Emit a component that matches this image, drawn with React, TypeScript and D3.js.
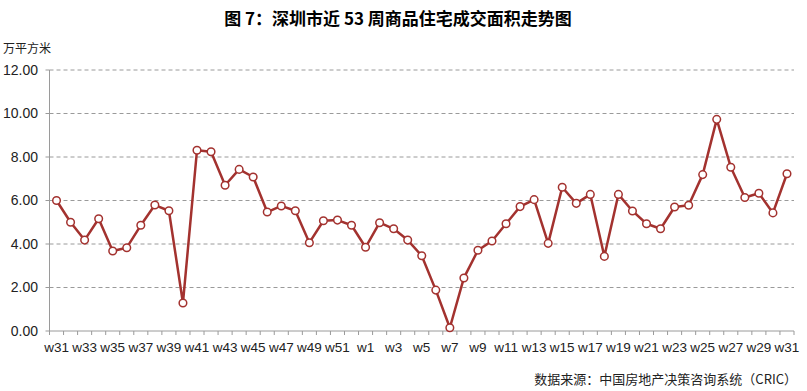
import React from "react";
import * as d3 from "d3";

const weeks: string[] = [
  "w31","w32","w33","w34","w35","w36","w37","w38","w39","w40","w41","w42","w43","w44","w45","w46","w47","w48","w49","w50","w51","w52",
  "w1","w2","w3","w4","w5","w6","w7","w8","w9","w10","w11","w12","w13","w14","w15","w16","w17","w18","w19","w20","w21","w22","w23","w24","w25","w26","w27","w28","w29","w30","w31 "
];
const areaValues: number[] = [
  6.0, 5.0, 4.18, 5.16, 3.68, 3.83, 4.86, 5.79, 5.53, 1.29, 8.31, 8.24, 6.70, 7.43, 7.08, 5.47, 5.75, 5.53, 4.06, 5.07, 5.10, 4.86,
  3.85, 4.98, 4.70, 4.18, 3.46, 1.88, 0.15, 2.44, 3.71, 4.14, 4.93, 5.72, 6.04, 4.03, 6.61, 5.87, 6.28, 3.43, 6.28, 5.52, 4.93, 4.70, 5.70, 5.78, 7.19, 9.73, 7.53, 6.14, 6.33, 5.43, 7.23
];
const yTicks: number[] = [0, 2, 4, 6, 8, 10, 12];
const title = "图 7：深圳市近 53 周商品住宅成交面积走势图";
const unitLabel = "万平方米";
const sourceLabel = "数据来源：中国房地产决策咨询系统（CRIC）";

const W = 807, H = 391;
const left = 49.5, right = 794, top = 70, bottom = 331;
const color = "#a3322f";
const font = "'Liberation Sans', Arial, sans-serif";
const cjkFont = "'Noto Sans CJK SC', 'Noto Sans', sans-serif";

export default function App() {
  const x = d3.scaleBand<string>().domain(weeks).range([left, right]).paddingInner(0).paddingOuter(0);
  const y = d3.scaleLinear().domain([0, 12]).range([bottom, top]);
  const cx = (i: number) => (x(weeks[i]) as number) + x.bandwidth() / 2;
  const line = d3.line<number>().x((_, i) => cx(i)).y((d) => y(d));
  const boundaries = d3.range(weeks.length + 1).map((i) => left + i * x.bandwidth());

  return (
    <svg width={W} height={H} style={{ position: "absolute", left: 0, top: 0, background: "#fff" }}>
      <text x={398} y={25} textAnchor="middle" fontFamily={cjkFont} fontWeight="bold" fontSize={17} fill="#000">{title}</text>
      <text x={3} y={53} fontFamily={cjkFont} fontSize={12} fill="#222">{unitLabel}</text>
      {yTicks.map((t) => (
        <g key={t}>
          {t > 0 && (
            <line x1={left} x2={right} y1={y(t)} y2={y(t)} stroke="#9a9a9a" strokeWidth={1} strokeDasharray="4,3" />
          )}
          <line x1={left - 4} x2={left} y1={y(t)} y2={y(t)} stroke="#9a9a9a" />
          <text x={38} y={y(t)} dy="0.35em" textAnchor="end" fontFamily={font} fontSize={14} fill="#222">{t.toFixed(2)}</text>
        </g>
      ))}
      <line x1={left} x2={left} y1={top} y2={bottom} stroke="#9a9a9a" />
      <line x1={left} x2={right} y1={bottom} y2={bottom} stroke="#9a9a9a" />
      {boundaries.map((bx, i) => (
        <line key={i} x1={bx} x2={bx} y1={bottom} y2={bottom + 4} stroke="#9a9a9a" />
      ))}
      {weeks.map((w, i) =>
        i % 2 === 0 ? (
          <text key={i} x={cx(i)} y={347} dy="0.35em" textAnchor="middle" fontFamily={font} fontSize={13.5} fill="#222">{w.trim()}</text>
        ) : null
      )}
      <path d={line(areaValues) || ""} fill="none" stroke={color} strokeWidth={2.5} strokeLinejoin="round" />
      {areaValues.map((v, i) => (
        <circle key={i} cx={cx(i)} cy={y(v)} r={3.8} fill="#fff" stroke={color} strokeWidth={1.5} />
      ))}
      <text x={797} y={384} textAnchor="end" fontFamily={cjkFont} fontSize={13} fill="#222">{sourceLabel}</text>
    </svg>
  );
}
